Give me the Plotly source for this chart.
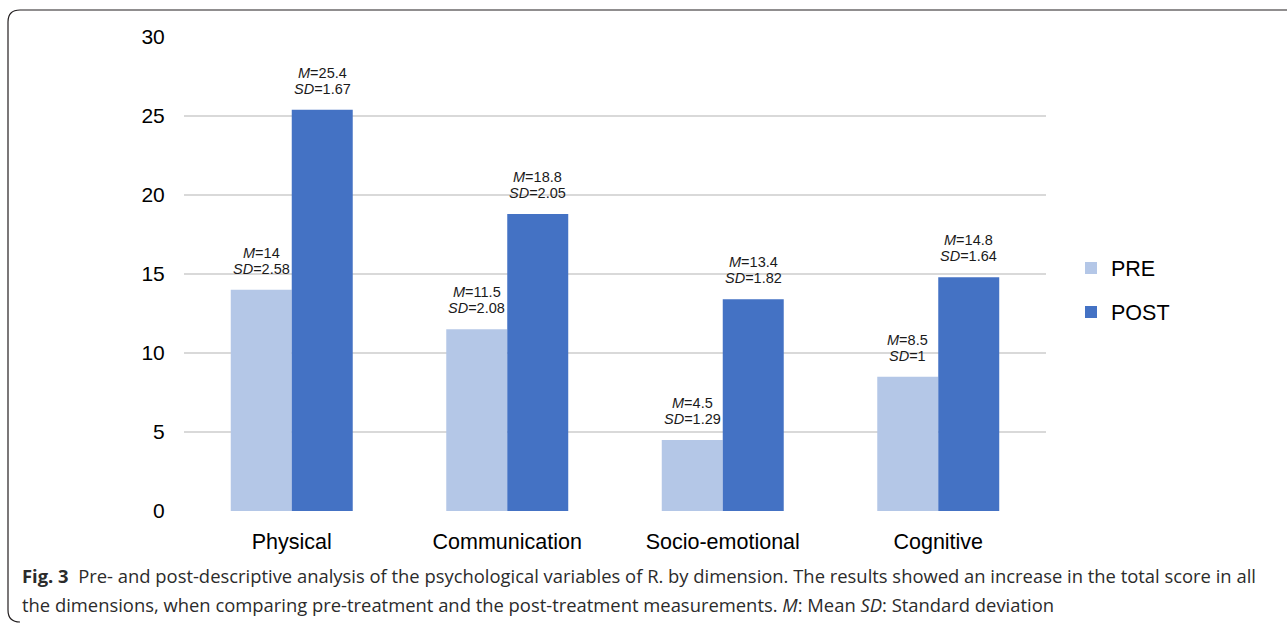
import plotly.graph_objects as go

# Data
categories = ["Physical", "Communication", "Socio-emotional", "Cognitive"]
pre_mean = [14, 11.5, 4.5, 8.5]
pre_sd = ["2.58", "2.08", "1.29", "1"]
post_mean = [25.4, 18.8, 13.4, 14.8]
post_sd = ["1.67", "2.05", "1.82", "1.64"]
y_ticks = [0, 5, 10, 15, 20, 25, 30]

W, H = 1287, 624
ML, MR, MT, MB = 184, 241, 37, 113
PW, PH = W - ML - MR, H - MT - MB


def px(x):
    return (x - ML) / PW


def py(y):
    return (H - MB - y) / PH


PRE_COLOR = "#B4C7E7"
POST_COLOR = "#4472C4"
FONT = "Liberation Sans, Arial, sans-serif"
BARGAP = 0.434

fig = go.Figure()
fig.add_trace(go.Bar(name="PRE", x=categories, y=pre_mean, marker_color=PRE_COLOR,
                     marker_line_width=0, legendgroup="pre"))
fig.add_trace(go.Bar(name="POST", x=categories, y=post_mean, marker_color=POST_COLOR,
                     marker_line_width=0, legendgroup="post"))

# Mean / SD labels above each bar
annotations = []
half = PW / len(categories) * (1 - BARGAP) / 4
LABEL_FONT = dict(family=FONT, size=14.5, color="#1a1a1a")
for means, sds, sign in ((pre_mean, pre_sd, -1), (post_mean, post_sd, 1)):
    for cat, m, sd in zip(categories, means, sds):
        for txt, shift in ((f"<i>M</i>={m:g}", 37), (f"<i>SD</i>={sd}", 21)):
            annotations.append(dict(x=cat, y=m, xref="x", yref="y", text=txt, showarrow=False,
                                    xshift=sign * half, yshift=shift, yanchor="middle",
                                    font=LABEL_FONT))

# Figure caption
CAP_FONT = dict(family="Open Sans, sans-serif", size=18.4, color="#2b2b2b")
annotations.append(dict(
    x=px(20), y=py(575), xref="paper", yref="paper", xanchor="left", yanchor="middle",
    showarrow=False, font=CAP_FONT,
    text="<b>Fig. 3</b>  Pre- and post-descriptive analysis of the psychological variables of R. "
         "by dimension. The results showed an increase in the total score in all"))
annotations.append(dict(
    x=px(20), y=py(604), xref="paper", yref="paper", xanchor="left", yanchor="middle",
    showarrow=False, font=CAP_FONT,
    text="the dimensions, when comparing pre-treatment and the post-treatment measurements. "
         "<i>M</i>: Mean <i>SD</i>: Standard deviation"))

# Rounded frame around the figure (top and left edges)
r = 12
frame = (f"M {px(W + 5)},{py(10)} L {px(8 + r)},{py(10)} "
         f"Q {px(8)},{py(10)} {px(8)},{py(10 + r)} "
         f"L {px(8)},{py(622 - r)} "
         f"Q {px(8)},{py(622)} {px(8 + r)},{py(622)} L {px(20)},{py(622)}")

fig.update_layout(
    width=W, height=H,
    margin=dict(l=ML, r=MR, t=MT, b=MB),
    paper_bgcolor="white", plot_bgcolor="white",
    barmode="group", bargap=BARGAP, bargroupgap=0,
    font=dict(family=FONT, color="#000000"),
    showlegend=True,
    legend=dict(x=px(1071), y=py(290), xanchor="left", yanchor="middle",
                font=dict(family=FONT, size=21.5, color="#000000"),
                traceorder="grouped", tracegroupgap=13, bgcolor="rgba(0,0,0,0)"),
    annotations=annotations,
    shapes=[dict(type="path", path=frame, xref="paper", yref="paper",
                 line=dict(color="#231F20", width=1.2))],
)
fig.update_yaxes(range=[0, 30], tickvals=y_ticks, showgrid=True, gridcolor="#D9D9D9",
                 gridwidth=1.5, zeroline=False, showline=False,
                 ticks="outside", ticklen=14, tickcolor="rgba(0,0,0,0)",
                 tickfont=dict(family=FONT, size=21, color="#000000"))
fig.update_xaxes(showgrid=False, showline=False, ticks="outside", ticklen=11,
                 tickcolor="rgba(0,0,0,0)",
                 tickfont=dict(family=FONT, size=21.5, color="#000000"))

fig.write_html("out.html")
